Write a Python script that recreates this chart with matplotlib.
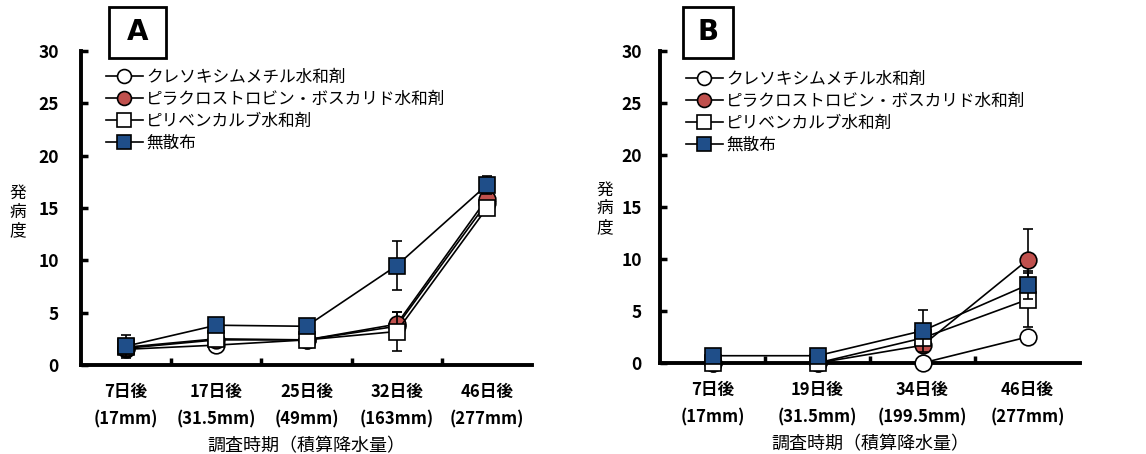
import numpy as np
import matplotlib
matplotlib.use("Agg")
import matplotlib.pyplot as plt
from matplotlib.patches import Rectangle
from matplotlib.lines import Line2D

plt.rcParams['font.family'] = ['Noto Sans CJK JP', 'DejaVu Sans']

# series names
names = ['クレソキシムメチル水和剤', 'ピラクロストロビン・ボスカリド水和剤', 'ピリベンカルブ水和剤', '無散布']

# panel A
cats_a = ['7日後\n(17mm)', '17日後\n(31.5mm)', '25日後\n(49mm)', '32日後\n(163mm)', '46日後\n(277mm)']
kreso_a = [1.5, 1.9, 2.4, 3.7, 15.5]
pyra_a = [1.6, 2.4, 2.4, 3.9, 15.9]
pyri_a = [1.7, 2.5, 2.4, 3.2, 15.0]
none_a = [1.8, 3.8, 3.7, 9.5, 17.2]
kreso_a_err = [0, 0, 0, 0, 0]
pyra_a_err = [0, 0, 0, 1.2, 0]
pyri_a_err = [0, 0, 0, 1.9, 0]
none_a_err = [1.1, 0, 0, 2.3, 0.9]

# panel B
cats_b = ['7日後\n(17mm)', '19日後\n(31.5mm)', '34日後\n(199.5mm)', '46日後\n(277mm)']
kreso_b = [0, 0, 0, 2.5]
pyra_b = [0, 0, 1.7, 9.9]
pyri_b = [0, 0, 2.4, 6.1]
none_b = [0.7, 0.7, 3.1, 7.5]
kreso_b_err = [0, 0, 0, 0]
pyra_b_err = [0, 0, 0, 3.0]
pyri_b_err = [0, 0, 0, 2.6]
none_b_err = [0, 0, 2.0, 1.3]

BLUE = '#1f4e89'
RED = '#c0504d'
styles = [
    dict(marker='o', mfc='white'),
    dict(marker='o', mfc=RED),
    dict(marker='s', mfc='white'),
    dict(marker='s', mfc=BLUE),
]

W, H = 1146, 454
fig = plt.figure(figsize=(W / 100, H / 100), dpi=100)


def px_axes(x0, x1, y0, y1):
    return fig.add_axes([x0 / W, 1 - y0 / H, (x1 - x0) / W, (y0 - y1) / H])


def draw_panel(ax, cats, series, errs, letter, box, ylab_xy, leg_xy, ypad):
    x = np.arange(len(cats))
    for i, (vals, err, st) in enumerate(zip(series, errs, styles)):
        ax.errorbar(x, vals, yerr=err, color='black', lw=1.2, elinewidth=1.2,
                     capsize=3.5, capthick=1.2, marker=st['marker'], ms=12,
                     mfc=st['mfc'], mec='black', mew=1.2,
                     zorder=3 + i, clip_on=False)
    ax.set_xlim(-0.5, len(cats) - 0.5)
    ax.set_ylim(0, 30)
    ax.set_yticks(range(0, 31, 5))
    ax.set_xticks(x)
    ax.set_xticklabels(cats, fontsize=12, fontweight='bold', linespacing=1.7)
    ax.set_xticks(np.arange(0.5, len(cats) - 0.5, 1), minor=True)
    ax.tick_params(axis='x', which='major', length=0, pad=13)
    ax.tick_params(axis='x', which='minor', direction='in', length=5, width=2.5)
    ax.tick_params(axis='y', direction='in', length=5, width=2.5, pad=ypad,
                   labelsize=12.5)
    for lbl in ax.get_yticklabels():
        lbl.set_fontweight('bold')
    for s in ['top', 'right']:
        ax.spines[s].set_visible(False)
    for s in ['left', 'bottom']:
        ax.spines[s].set_linewidth(2.8)
    ax.set_xlabel('調査時期（積算降水量）', fontsize=13, labelpad=6)

    fig.text(ylab_xy[0] / W, 1 - ylab_xy[1] / H, '発\n病\n度', fontsize=12,
             ha='center', va='center', linespacing=1.15)

    bx0, by0, bx1, by1 = box
    fig.patches.append(Rectangle((bx0 / W, 1 - by1 / H), (bx1 - bx0) / W,
                                 (by1 - by0) / H, transform=fig.transFigure,
                                 fill=False, ec='black', lw=2))
    fig.text((bx0 + bx1) / 2 / W, 1 - (by0 + by1) / 2 / H, letter,
             fontsize=20, fontweight='bold', ha='center', va='center',
             family='DejaVu Sans')

    handles = [Line2D([], [], color='black', lw=1.2, marker=st['marker'], ms=10,
                      mfc=st['mfc'], mec='black', mew=1.2) for st in styles]
    ax.legend(handles, names, loc='upper left',
              bbox_to_anchor=(leg_xy[0] / W, 1 - leg_xy[1] / H),
              bbox_transform=fig.transFigure, frameon=False, fontsize=12,
              handlelength=2.2, handletextpad=0.2, labelspacing=0.3,
              borderpad=0, borderaxespad=0)


ax_a = px_axes(81, 532, 365, 51)
draw_panel(ax_a, cats_a, [kreso_a, pyra_a, pyri_a, none_a],
           [kreso_a_err, pyra_a_err, pyri_a_err, none_a_err],
           'A', (109, 7, 166, 58), (18, 212), (106, 69), 16)

ax_b = px_axes(660, 1080, 363, 51)
draw_panel(ax_b, cats_b, [kreso_b, pyra_b, pyri_b, none_b],
           [kreso_b_err, pyra_b_err, pyri_b_err, none_b_err],
           'B', (683, 7, 733, 58), (605, 209), (686, 71), 13)

fig.savefig('out.png', dpi=100)
